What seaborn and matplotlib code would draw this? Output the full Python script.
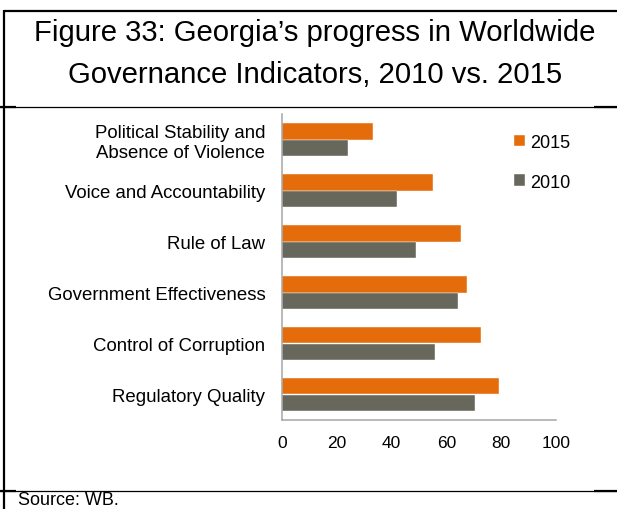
import matplotlib
matplotlib.use("Agg")
import matplotlib.pyplot as plt
from matplotlib.lines import Line2D
import pandas as pd
import seaborn as sns

# --- Daten ---
indikatoren = [
    "Political Stability and\nAbsence of Violence",
    "Voice and Accountability",
    "Rule of Law",
    "Government Effectiveness",
    "Control of Corruption",
    "Regulatory Quality",
]
werte_2015 = [33.2, 55.2, 65.4, 67.4, 72.6, 79.1]
werte_2010 = [24.1, 42.1, 48.9, 64.3, 55.7, 70.4]
jahre = ["2015", "2010"]
farben = ["#E46C0A", "#67675B"]
x_ticks = [0, 20, 40, 60, 80, 100]

df = pd.DataFrame({
    "Indikator": indikatoren * 2,
    "Jahr": ["2015"] * len(indikatoren) + ["2010"] * len(indikatoren),
    "Wert": werte_2015 + werte_2010,
})

sns.set_style("white")
plt.rcParams["font.family"] = ["Liberation Sans", "DejaVu Sans"]
plt.rcParams["text.color"] = "black"
plt.rcParams["xtick.color"] = "black"
plt.rcParams["ytick.color"] = "black"

W, H = 617, 510
fig = plt.figure(figsize=(W / 100, H / 100), dpi=100)
ax = fig.add_axes([282 / W, 1 - 421 / H, (556 - 282) / W, (421 - 115) / H])

sns.barplot(
    data=df, x="Wert", y="Indikator", hue="Jahr",
    hue_order=jahre, palette=farben, order=indikatoren,
    orient="h", width=0.66, saturation=1, ax=ax,
    edgecolor="white", linewidth=0.3,
)

ax.set_xlim(0, 100)
ax.set_xticks(x_ticks)
ax.tick_params(axis="x", labelsize=12.5, length=0, pad=11, labelcolor="black")
ax.tick_params(axis="y", labelsize=13.4, length=0, pad=12, labelcolor="black")
for lbl in ax.get_yticklabels():
    lbl.set_horizontalalignment("right")
    lbl.set_multialignment("right")
ax.set_xlabel("")
ax.set_ylabel("")
for s in ["top", "right"]:
    ax.spines[s].set_visible(False)
for s in ["left", "bottom"]:
    ax.spines[s].set_color("#A6A6A6")
    ax.spines[s].set_linewidth(1.1)

# Legende
ax.legend_.remove()
fig.legend(
    *ax.get_legend_handles_labels(),
    loc="upper left", bbox_to_anchor=(514 / W, 1 - 135 / H),
    frameon=False, fontsize=13, handlelength=0.6, handleheight=0.6,
    handletextpad=0.3, labelspacing=1.25, borderpad=0, borderaxespad=0,
)

# Titel
fig.text(315 / W, 1 - 33 / H, "Figure 33: Georgia’s progress in Worldwide",
         ha="center", va="center", fontsize=21.1)
fig.text(315 / W, 1 - 75 / H, "Governance Indicators, 2010 vs. 2015",
         ha="center", va="center", fontsize=21.1)
fig.text(18 / W, 1 - 505 / H, "Source: WB.", ha="left", va="baseline", fontsize=13)

# Rahmenlinien
def linie(x0, y0, x1, y1, lw):
    fig.add_artist(Line2D([x0 / W, x1 / W], [1 - y0 / H, 1 - y1 / H],
                          transform=fig.transFigure, color="black", lw=lw,
                          solid_capstyle="butt"))

linie(4, 12, 617, 12, 1.6)
linie(4, 11, 4, 510, 1.6)
for y in (108, 492):
    linie(0, y, 617, y, 0.9)
    linie(0, y, 16, y, 1.6)
    linie(594, y, 617, y, 1.6)

fig.savefig("out.png", dpi=100)
